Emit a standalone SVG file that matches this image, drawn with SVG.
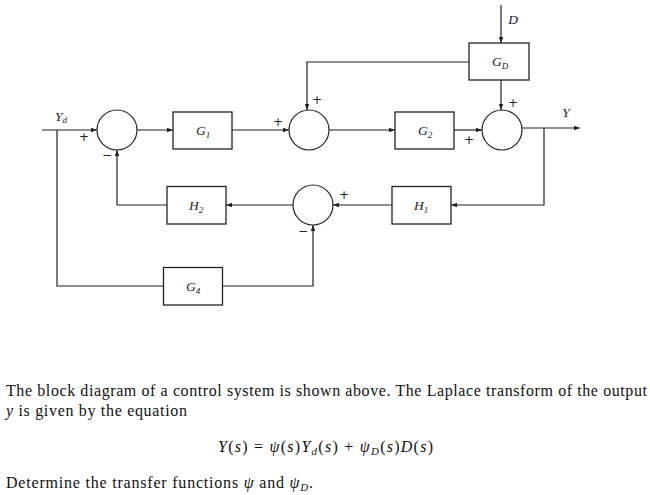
<svg xmlns="http://www.w3.org/2000/svg" width="650" height="495" viewBox="0 0 650 495">
<defs>
<marker id="ah" viewBox="0 0 8 6" refX="8" refY="3" markerWidth="6" markerHeight="4.5" orient="auto" markerUnits="userSpaceOnUse">
<path d="M0,0 L8,3 L0,6 Z" fill="#222"/>
</marker>
<style>
.blk{fill:#fff;stroke:#222;stroke-width:1.3}
.sum{fill:#fff;stroke:#222;stroke-width:1.2}
.ln{fill:none;stroke:#222;stroke-width:1.2}
.arr{fill:none;stroke:#222;stroke-width:1.2;marker-end:url(#ah)}
.lbl{font-family:"Liberation Serif",serif;font-style:italic;font-size:13.5px;fill:#222;text-anchor:middle}
.sub{font-size:9px}
.sg{font-family:"DejaVu Sans",sans-serif;font-size:12px;fill:#222;text-anchor:middle;dominant-baseline:central}
.txt{font-family:"Liberation Serif",serif;font-size:16px;fill:#111}
.it{font-style:italic}
</style>
</defs>
<rect width="650" height="495" fill="#fff"/>

<g id="connectors">
<path class="arr" d="M42,130 H97"/>
<path class="ln" d="M57,130 V286 H163.5"/>
<path class="arr" d="M222.5,286 H313 V225"/>
<path class="arr" d="M137,130 H173"/>
<path class="arr" d="M232,130 H289"/>
<path class="arr" d="M329,130 H395"/>
<path class="arr" d="M454,130 H482"/>
<path class="arr" d="M522,128 H580"/>
<path class="arr" d="M501,5 V43"/>
<path class="arr" d="M501,80 V110"/>
<path class="arr" d="M469,62 H307 V110"/>
<path class="arr" d="M544,128 V205 H451"/>
<path class="arr" d="M392,205 H333"/>
<path class="arr" d="M293,205 H226"/>
<path class="arr" d="M167,205 H117 V150"/>
</g>

<g id="sum1"><circle class="sum" cx="117" cy="130" r="20"/>
<text class="sg" x="84" y="137">+</text><text class="sg" x="107" y="155">−</text></g>
<g id="sum2"><circle class="sum" cx="309" cy="130" r="20"/>
<text class="sg" x="278" y="122">+</text><text class="sg" x="317" y="100">+</text></g>
<g id="sum3"><circle class="sum" cx="502" cy="130" r="20"/>
<text class="sg" x="469" y="140">+</text><text class="sg" x="513" y="103">+</text></g>
<g id="sum4"><circle class="sum" cx="313" cy="205" r="20"/>
<text class="sg" x="344" y="195">+</text><text class="sg" x="303" y="231">−</text></g>

<g id="G1"><rect class="blk" x="173" y="112" width="59" height="37"/>
<text class="lbl" x="203" y="135">G<tspan class="sub" dy="2.5">1</tspan></text></g>
<g id="G2"><rect class="blk" x="395" y="112" width="59" height="37"/>
<text class="lbl" x="425" y="135">G<tspan class="sub" dy="2.5">2</tspan></text></g>
<g id="GD"><rect class="blk" x="469" y="43" width="60" height="37"/>
<text class="lbl" x="500" y="66">G<tspan class="sub" dy="2.5">D</tspan></text></g>
<g id="H2"><rect class="blk" x="167" y="186.5" width="59" height="37.5"/>
<text class="lbl" x="196" y="210">H<tspan class="sub" dy="2.5">2</tspan></text></g>
<g id="H1"><rect class="blk" x="392" y="186.5" width="59" height="37.5"/>
<text class="lbl" x="421" y="210">H<tspan class="sub" dy="2.5">1</tspan></text></g>
<g id="G4"><rect class="blk" x="163.5" y="267.5" width="59" height="37.5"/>
<text class="lbl" x="193" y="291">G<tspan class="sub" dy="2.5">4</tspan></text></g>

<g id="labels">
<text class="lbl" x="61" y="121">Y<tspan class="sub" dy="2">d</tspan></text>
<text class="lbl" x="513" y="24">D</text>
<text class="lbl" x="566" y="117">Y</text>
</g>

<g id="caption">
<text class="txt" x="6" y="396" textLength="641" lengthAdjust="spacing">The block diagram of a control system is shown above. The Laplace transform of the output</text>
<text class="txt" x="6" y="416" textLength="181" lengthAdjust="spacing"><tspan class="it">y</tspan> is given by the equation</text>
<text class="txt" x="218" y="452" textLength="215" lengthAdjust="spacing"><tspan class="it">Y</tspan>(<tspan class="it">s</tspan>) = <tspan class="it">ψ</tspan>(<tspan class="it">s</tspan>)<tspan class="it">Y</tspan><tspan class="it" font-size="11" dy="3">d</tspan><tspan dy="-3">(</tspan><tspan class="it">s</tspan>) + <tspan class="it">ψ</tspan><tspan class="it" font-size="11" dy="3">D</tspan><tspan dy="-3">(</tspan><tspan class="it">s</tspan>)<tspan class="it">D</tspan>(<tspan class="it">s</tspan>)</text>
<text class="txt" x="6" y="488" textLength="307" lengthAdjust="spacing">Determine the transfer functions <tspan class="it">ψ</tspan> and <tspan class="it">ψ</tspan><tspan class="it" font-size="11" dy="3">D</tspan><tspan dy="-3">.</tspan></text>
</g>
</svg>
